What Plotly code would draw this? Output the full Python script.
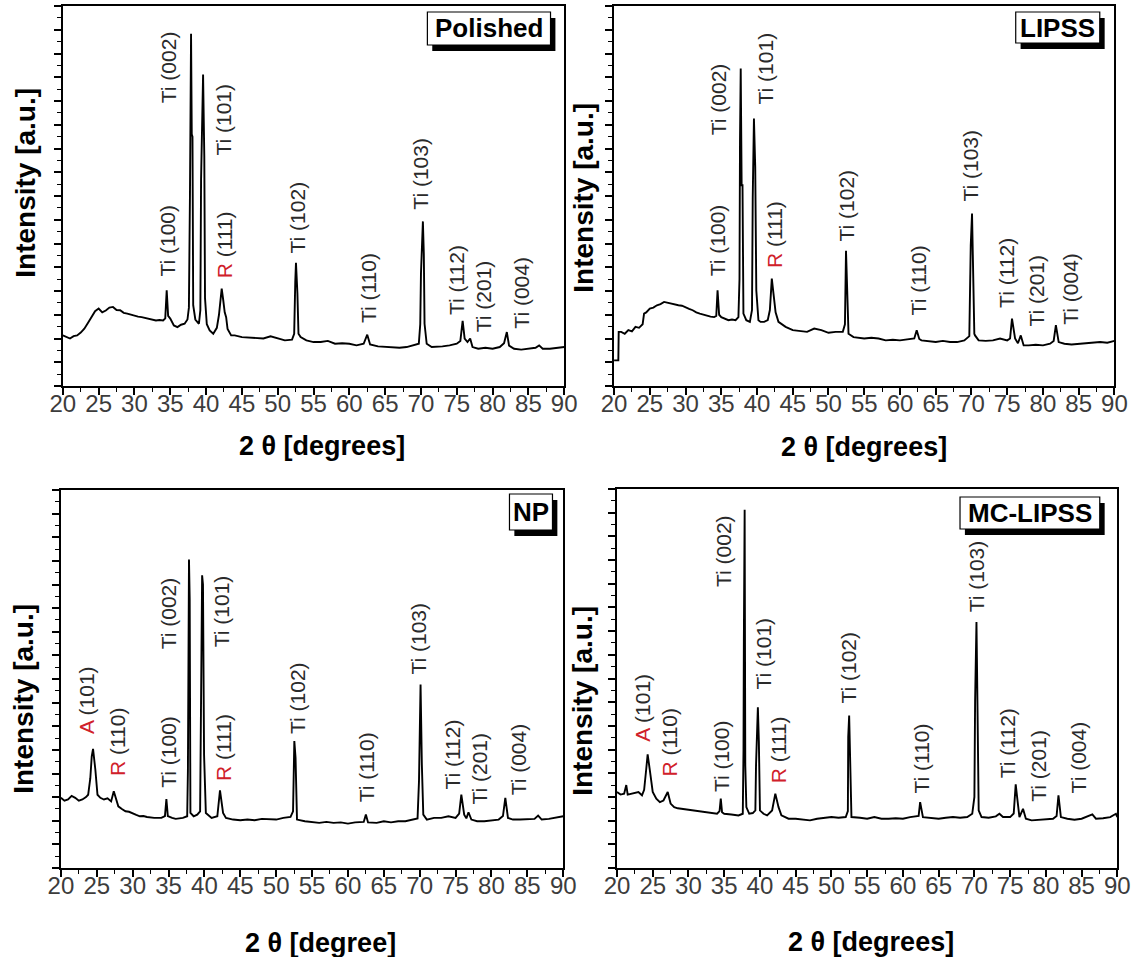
import plotly.graph_objects as go

# ---------------- XRD patterns (2θ in degrees, intensity in arbitrary units) ----------------
theta_polished = [20.0, 20.5, 21.0, 21.5, 22.0, 22.5, 23.0, 23.5, 24.0, 24.5, 25.0, 25.5, 26.0, 26.5, 27.0,
                  27.5, 28.0, 28.5, 29.0, 29.5, 30.0, 30.5, 31.0, 31.5, 32.0, 32.5, 33.0, 33.5, 34.0, 34.3,
                  34.5, 34.7, 35.0, 35.5, 36.0, 36.5, 37.0, 37.4, 37.6, 37.75, 37.9, 38.0, 38.1, 38.2, 38.5,
                  39.0, 39.2, 39.3, 39.58, 39.75, 39.85, 40.1, 40.5, 41.0, 41.5, 41.8, 42.0, 42.18, 42.4,
                  42.6, 42.8, 43.0, 43.5, 44.0, 45.0, 46.0, 47.0, 48.0, 49.0, 50.0, 51.0, 52.0, 52.3, 52.45,
                  52.55, 52.75, 52.9, 53.2, 54.0, 55.0, 56.0, 57.0, 58.0, 59.0, 60.0, 61.0, 62.0, 62.5, 62.9,
                  64.0, 65.0, 66.0, 67.0, 68.0, 69.0, 69.7, 69.9, 70.0, 70.27, 70.4, 70.5, 70.8, 71.5, 72.0,
                  73.0, 74.0, 75.0, 75.5, 75.82, 76.1, 76.5, 76.87, 77.2, 78.0, 79.0, 80.0, 81.0, 81.6,
                  81.99, 82.3, 83.0, 84.0, 85.0, 86.0, 86.5, 87.0, 88.0, 89.0, 90.0]
int_polished = [2.13, 2.05, 2.00, 2.10, 2.13, 2.25, 2.41, 2.65, 2.90, 3.15, 3.26, 3.10, 3.18, 3.30, 3.33,
                3.20, 3.19, 3.08, 3.05, 3.00, 2.98, 2.92, 2.90, 2.86, 2.84, 2.80, 2.76, 2.78, 2.76, 2.85,
                4.03, 2.95, 2.84, 2.55, 2.48, 2.58, 2.62, 2.80, 3.30, 8.10, 14.83, 10.60, 10.50, 3.40, 2.80,
                2.62, 3.20, 8.70, 13.12, 9.64, 3.70, 2.60, 2.34, 2.20, 2.45, 3.00, 3.70, 4.10, 3.60,
                3.10, 2.90, 2.40, 2.13, 2.13, 2.06, 2.03, 2.00, 2.00, 2.09, 2.00, 1.92, 1.95, 2.20, 4.38,
                5.19, 3.89, 2.20, 2.06, 1.92, 1.85, 1.85, 1.90, 1.78, 1.80, 1.78, 1.71, 1.78, 2.16, 1.75,
                1.67, 1.64, 1.64, 1.61, 1.64, 1.71, 1.78, 2.60, 4.73, 6.93, 5.57, 2.62, 1.78, 1.64, 1.64,
                1.67, 1.71, 1.78, 1.90, 2.74, 2.00, 1.85, 2.00, 1.64, 1.57, 1.61, 1.57, 1.64, 1.80,
                2.27, 1.70, 1.57, 1.53, 1.57, 1.61, 1.71, 1.57, 1.57, 1.61, 1.64]

theta_lipss = [20.0, 20.6, 20.65, 21.0, 21.5, 22.0, 22.5, 23.0, 23.5, 24.0, 24.2, 24.5, 25.0, 25.5, 26.0,
               26.5, 27.0, 27.5, 28.0, 28.5, 29.0, 29.5, 30.0, 30.5, 31.0, 31.5, 32.0, 32.5, 33.0, 33.5,
               34.0, 34.3, 34.48, 34.7, 35.0, 35.5, 36.0, 36.5, 37.0, 37.4, 37.55, 37.62, 37.72, 37.85,
               37.97, 38.1, 38.5, 39.0, 39.3, 39.4, 39.57, 39.75, 39.9, 40.2, 40.5, 41.0, 41.5, 41.8,
               42.07, 42.3, 42.6, 43.0, 43.5, 44.0, 45.0, 46.0, 47.0, 48.0, 49.0, 50.0, 51.0, 52.0, 52.3,
               52.45, 52.6, 52.8, 53.5, 54.5, 55.0, 56.0, 57.0, 58.0, 59.0, 60.0, 61.0, 62.0, 62.34, 62.7,
               63.0, 64.0, 65.0, 66.0, 67.0, 68.0, 69.0, 69.7, 69.9, 70.08, 70.2, 70.4, 70.5, 71.0, 72.0,
               73.0, 74.0, 75.0, 75.4, 75.67, 76.1, 76.5, 76.9, 77.3, 78.0, 79.0, 80.0, 81.0, 81.5, 81.81,
               82.2, 83.0, 84.0, 85.0, 86.0, 87.0, 88.0, 89.0, 90.0]
int_lipss = [1.08, 1.08, 2.28, 2.28, 2.20, 2.35, 2.30, 2.49, 2.45, 2.60, 3.05, 3.10, 3.26, 3.30, 3.40,
             3.45, 3.54, 3.50, 3.47, 3.42, 3.40, 3.38, 3.33, 3.25, 3.19, 3.10, 3.05, 3.00, 2.98, 2.92,
             2.90, 2.95, 4.03, 3.00, 2.90, 2.85, 2.77, 2.80, 2.77, 2.90, 4.50, 10.35, 13.37, 8.45,
             8.45, 3.05, 2.77, 2.70, 3.20, 7.89, 11.26, 9.23, 4.03, 2.77, 2.70, 2.70, 2.77, 3.20,
             4.52, 3.90, 3.10, 2.70, 2.60, 2.49, 2.35, 2.33, 2.28, 2.42, 2.35, 2.24, 2.28, 2.28, 2.60,
             5.69, 3.61, 2.20, 2.06, 2.03, 2.00, 2.03, 2.00, 1.92, 1.95, 1.92, 1.95, 2.00, 2.35, 1.98,
             1.92, 1.90, 1.85, 1.90, 1.85, 1.85, 1.92, 2.10, 5.93, 7.26, 4.87, 2.20, 2.13, 1.92, 1.90,
             1.92, 2.00, 1.92, 2.00, 2.84, 2.00, 1.80, 2.13, 1.71, 1.71, 1.74, 1.71, 1.78, 1.90, 2.56,
             1.85, 1.78, 1.75, 1.78, 1.80, 1.81, 1.85, 1.82, 1.90]

theta_np = [20.0, 20.5, 21.0, 21.5, 22.0, 22.5, 23.0, 23.5, 23.8, 24.1, 24.3, 24.48, 24.8, 25.1, 25.5,
            26.0, 26.5, 27.0, 27.37, 27.8, 28.0, 28.5, 29.0, 29.5, 30.0, 30.5, 31.0, 31.5, 32.0, 33.0,
            34.0, 34.5, 34.7, 34.9, 35.5, 36.0, 37.0, 37.6, 37.7, 37.85, 37.95, 38.05, 38.5, 39.0, 39.4,
            39.5, 39.68, 39.8, 39.95, 40.2, 41.0, 41.8, 42.17, 42.6, 43.0, 44.0, 45.0, 46.0, 47.0, 48.0,
            49.0, 50.0, 51.0, 52.0, 52.35, 52.53, 52.7, 52.9, 54.0, 55.0, 56.0, 57.0, 58.0, 59.0, 60.0,
            61.0, 62.2, 62.5, 62.8, 64.0, 65.0, 66.0, 67.0, 68.0, 69.0, 69.7, 69.9, 70.12, 70.3, 70.5,
            71.0, 72.0, 73.0, 74.0, 75.0, 75.5, 75.8, 76.2, 76.5, 76.8, 77.2, 78.0, 79.0, 80.0, 81.0,
            81.6, 81.93, 82.3, 83.0, 84.0, 85.0, 86.0, 86.5, 87.0, 88.0, 89.0, 90.0]
int_np = [2.97, 2.85, 2.90, 3.05, 2.97, 2.85, 2.90, 3.00, 3.10, 3.80, 4.73, 5.04, 4.17, 3.10, 2.97,
          2.90, 2.95, 2.82, 3.25, 2.75, 2.61, 2.50, 2.40, 2.38, 2.33, 2.25, 2.19, 2.20, 2.16, 2.12,
          2.12, 2.20, 2.92, 2.20, 2.12, 2.08, 2.12, 2.19, 4.10, 13.06, 11.37, 2.33, 2.19, 2.26, 2.40,
          5.65, 12.39, 12.00, 4.80, 2.33, 2.12, 2.19, 3.29, 2.33, 2.12, 2.05, 2.02, 2.05, 2.02, 2.08,
          2.05, 2.05, 2.12, 2.16, 2.40, 5.37, 4.66, 2.05, 1.98, 1.93, 1.91, 1.95, 1.91, 1.93, 1.88,
          1.93, 1.95, 2.26, 1.93, 1.91, 1.98, 1.93, 1.98, 1.98, 2.05, 2.10, 3.67, 7.77, 4.38, 2.26,
          2.05, 2.12, 2.12, 2.19, 2.12, 2.30, 3.11, 2.26, 2.10, 2.36, 2.05, 1.98, 1.98, 2.02, 2.05,
          2.20, 2.97, 2.12, 2.05, 2.05, 2.05, 2.08, 2.22, 2.05, 2.08, 2.12, 2.19]

theta_mc = [20.0, 20.5, 21.0, 21.3, 21.5, 22.0, 22.5, 23.0, 23.5, 23.8, 24.1, 24.29, 24.6, 25.0, 25.5,
            26.0, 26.5, 27.1, 27.5, 28.0, 28.5, 29.0, 29.5, 30.0, 31.0, 32.0, 33.0, 34.0, 34.35, 34.52,
            34.7, 35.0, 36.0, 37.0, 37.6, 37.7, 37.75, 37.86, 37.95, 38.1, 38.5, 39.0, 39.36, 39.45,
            39.71, 39.85, 40.0, 40.5, 41.0, 41.7, 42.15, 42.6, 43.0, 44.0, 45.0, 46.0, 47.0, 48.0, 49.0,
            50.0, 51.0, 52.0, 52.3, 52.35, 52.48, 52.65, 52.8, 54.0, 55.0, 56.0, 57.0, 58.0, 59.0, 60.0,
            61.0, 62.2, 62.41, 62.8, 64.0, 65.0, 66.0, 67.0, 68.0, 69.0, 69.7, 70.0, 70.1, 70.29, 70.45,
            70.6, 71.0, 72.0, 73.0, 73.5, 74.0, 75.0, 75.5, 75.78, 76.0, 76.3, 76.8, 77.2, 78.0, 79.0,
            80.0, 81.0, 81.5, 81.76, 82.1, 83.0, 84.0, 85.0, 86.5, 87.0, 88.0, 89.0, 89.8, 90.0]
int_mc = [3.21, 3.10, 3.14, 3.50, 3.10, 3.14, 3.20, 3.21, 3.07, 3.30, 4.20, 4.80, 4.12, 3.21, 2.93,
          2.78, 2.85, 3.21, 2.72, 2.57, 2.52, 2.50, 2.45, 2.43, 2.40, 2.36, 2.32, 2.29, 2.40, 2.93,
          2.35, 2.29, 2.26, 2.22, 2.29, 5.00, 9.60, 15.12, 4.33, 2.57, 2.29, 2.32, 2.43, 4.33,
          6.79, 5.32, 2.43, 2.29, 2.22, 2.43, 3.14, 2.57, 2.22, 2.08, 2.08, 2.04, 2.01, 2.08, 2.12,
          2.15, 2.12, 2.15, 2.40, 5.53, 6.44, 3.98, 2.15, 2.12, 2.08, 2.15, 2.08, 2.08, 2.10, 2.08,
          2.15, 2.20, 2.78, 2.15, 2.12, 2.08, 2.12, 2.15, 2.12, 2.15, 2.29, 3.00, 7.07, 10.38, 6.37,
          2.43, 2.15, 2.12, 2.18, 2.29, 2.15, 2.15, 2.30, 3.53, 2.93, 2.15, 2.50, 2.08, 2.01, 2.04,
          2.08, 2.08, 2.20, 3.07, 2.15, 2.08, 2.04, 2.08, 2.26, 2.08, 2.10, 2.15, 2.29, 2.15]

# ---------------- Reflection labels: (text, 2θ of label column, intensity where the label starts) ----------------
labels_polished = [("Ti (100)", 34.67, 4.52), ("Ti (002)", 34.67, 11.82), ("Ti (101)", 42.43, 9.64),
                   ("R (111)", 42.58, 4.45), ("Ti (102)", 52.7, 5.5), ("Ti (110)", 62.7, 2.55),
                   ("Ti (103)", 69.97, 7.33), ("Ti (112)", 74.88, 2.9), ("Ti (201)", 78.73, 2.2),
                   ("Ti (004)", 84.0, 2.34)]
labels_lipss = [("Ti (100)", 34.48, 4.52), ("Ti (002)", 34.73, 10.49), ("Ti (101)", 41.22, 11.76),
                ("R (111)", 42.37, 4.9), ("Ti (102)", 52.45, 6.0), ("Ti (110)", 62.59, 2.91),
                ("Ti (103)", 69.93, 7.68), ("Ti (112)", 74.92, 3.19), ("Ti (201)", 79.17, 2.42),
                ("Ti (004)", 83.91, 2.49)]
labels_np = [("A (101)", 23.49, 5.58), ("R (110)", 27.97, 3.81), ("Ti (100)", 34.95, 3.32),
             ("Ti (002)", 34.95, 9.18), ("Ti (101)", 42.42, 9.25), ("R (111)", 42.67, 3.6),
             ("Ti (102)", 52.88, 5.58), ("Ti (110)", 62.6, 2.68), ("Ti (103)", 69.82, 8.12),
             ("Ti (112)", 74.55, 3.25), ("Ti (201)", 78.29, 2.61), ("Ti (004)", 83.77, 2.97)]
labels_mc = [("A (101)", 23.64, 5.25), ("R (110)", 27.38, 3.77), ("Ti (100)", 34.62, 3.14),
             ("Ti (002)", 34.87, 11.79), ("Ti (101)", 40.36, 7.43), ("R (111)", 42.6, 3.49),
             ("Ti (102)", 52.33, 6.86), ("Ti (110)", 62.56, 3.07), ("Ti (103)", 70.29, 10.73),
             ("Ti (112)", 74.68, 3.7), ("Ti (201)", 79.02, 2.71), ("Ti (004)", 84.51, 3.07)]

sample_names = ["Polished", "LIPSS", "NP", "MC-LIPSS"]
x_titles = ["2 θ [degrees]", "2 θ [degrees]", "2 θ [degree]", "2 θ [degrees]"]
y_title = "Intensity [a.u.]"
x_tick_values = [20, 25, 30, 35, 40, 45, 50, 55, 60, 65, 70, 75, 80, 85, 90]

# ---------------- Layout geometry (pixels) ----------------
W, H = 1146, 957


def px_x(v):
    return v / W


def px_y(v):
    return 1 - v / H


# plot areas: left, right, top, bottom
panels = [(51, 564, 6, 386), (615, 1127, 6, 386), (49, 563, 490, 868), (618, 1130, 489, 868)]
ytitle_pos = [(12, 183), (584, 198), (10, 699), (582, 701)]
xtitle_pos = [(316, 446), (871, 447), (315, 943), (878, 942)]
# legend boxes: left, right, top, bottom
boxes = [(424, 550, 12, 45), (1026, 1112, 12, 43), (508, 552, 494, 530), (969, 1112, 497, 529)]

series = [(theta_polished, int_polished, labels_polished),
          (theta_lipss, int_lipss, labels_lipss),
          (theta_np, int_np, labels_np),
          (theta_mc, int_mc, labels_mc)]

RED = "#d0202a"
TEXT_DARK = "#2a2a2a"
TICK_GREY = "#3c3c3c"
FONT = "Liberation Sans, Arial, sans-serif"

fig = go.Figure()
annotations = []
shapes = []
layout_axes = {}

for i, ((tt, ii, labs), (l, r, t, b)) in enumerate(zip(series, panels)):
    n = i + 1
    xa = "x" if n == 1 else f"x{n}"
    ya = "y" if n == 1 else f"y{n}"
    fig.add_trace(go.Scatter(x=tt, y=ii, mode="lines", xaxis=xa, yaxis=ya,
                             line=dict(color="black", width=1.9), showlegend=False,
                             hoverinfo="skip"))
    xkey = "xaxis" if n == 1 else f"xaxis{n}"
    ykey = "yaxis" if n == 1 else f"yaxis{n}"
    layout_axes[xkey] = dict(
        domain=[px_x(l), px_x(r)], anchor=ya, range=[20, 90],
        tickmode="array", tickvals=x_tick_values, ticktext=[str(v) for v in x_tick_values],
        ticks="outside", ticklen=7, tickwidth=1.5, tickcolor="black",
        minor=dict(dtick=2.5, ticks="outside", ticklen=4, tickwidth=1.3, tickcolor="black"),
        showline=True, linecolor="black", linewidth=1.6, mirror=True,
        showgrid=False, zeroline=False, ticklabelstandoff=-12,
        tickfont=dict(family=FONT, size=24, color=TICK_GREY),
    )
    layout_axes[ykey] = dict(
        domain=[px_y(b), px_y(t)], anchor=xa, range=[0, 16],
        dtick=1, tick0=0, showticklabels=False,
        ticks="outside", ticklen=7, tickwidth=1.5, tickcolor="black",
        minor=dict(dtick=0.5, ticks="outside", ticklen=4, tickwidth=1.3, tickcolor="black"),
        showline=True, linecolor="black", linewidth=1.6, mirror=True,
        showgrid=False, zeroline=False,
    )

    # reflection labels, written vertically
    for text, xpos, ypos in labs:
        phase, hkl = text.split(" ", 1)
        if phase in ("R", "A"):
            txt = f"<span style='color:{RED}'>{phase}</span> {hkl}"
        else:
            txt = text
        annotations.append(dict(
            x=xpos, y=ypos, xref=xa, yref=ya, text=txt, showarrow=False,
            textangle=-90, xanchor="center", yanchor="bottom",
            font=dict(family=FONT, size=21, color=TEXT_DARK),
        ))

    # axis titles
    yx, yy = ytitle_pos[i]
    annotations.append(dict(
        x=px_x(yx), y=px_y(yy), xref="paper", yref="paper", text=f"<b>{y_title}</b>",
        showarrow=False, textangle=-90, xanchor="center", yanchor="middle",
        font=dict(family=FONT, size=28, color="black"),
    ))
    xx, xy = xtitle_pos[i]
    annotations.append(dict(
        x=px_x(xx), y=px_y(xy), xref="paper", yref="paper", text=f"<b>{x_titles[i]}</b>",
        showarrow=False, xanchor="center", yanchor="middle",
        font=dict(family=FONT, size=27, color="black"),
    ))

    # sample name box with a drop shadow
    bl, br, bt, bb = boxes[i]
    shapes.append(dict(type="rect", xref="paper", yref="paper",
                       x0=px_x(bl + 5), x1=px_x(br + 5), y0=px_y(bb + 6), y1=px_y(bt + 6),
                       fillcolor="black", line=dict(width=0), layer="above"))
    shapes.append(dict(type="rect", xref="paper", yref="paper",
                       x0=px_x(bl), x1=px_x(br), y0=px_y(bb), y1=px_y(bt),
                       fillcolor="white", line=dict(color="black", width=1.2), layer="above"))
    annotations.append(dict(
        x=px_x((bl + br) / 2), y=px_y((bt + bb) / 2), xref="paper", yref="paper",
        text=f"<b>{sample_names[i]}</b>", showarrow=False, xanchor="center", yanchor="middle",
        font=dict(family=FONT, size=26, color="black"),
    ))

fig.update_layout(
    width=W, height=H, margin=dict(l=0, r=0, t=0, b=0),
    paper_bgcolor="white", plot_bgcolor="white",
    annotations=annotations, shapes=shapes, showlegend=False,
    **layout_axes,
)

fig.write_html("out.html")
